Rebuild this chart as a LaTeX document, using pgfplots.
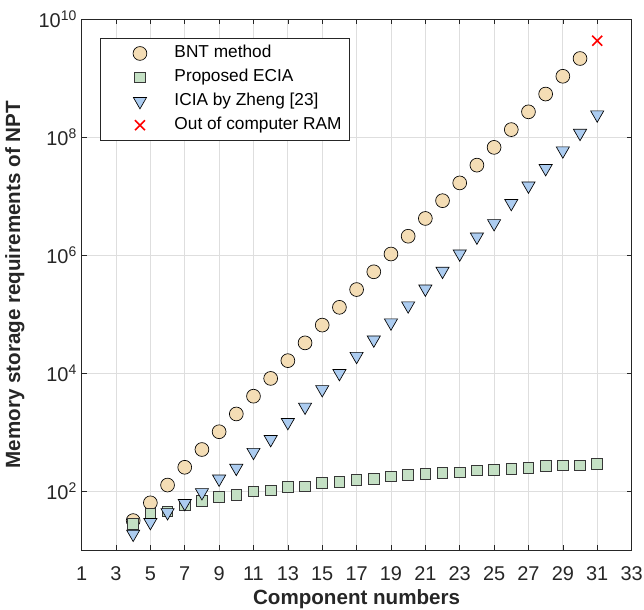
\documentclass[border=0pt]{standalone}
\usepackage{pgfplots}
\pgfplotsset{compat=1.18}
\usepackage{fontspec}
\setmainfont{Liberation Sans}

\definecolor{bntfill}{RGB}{244,221,181}
\definecolor{eciafill}{RGB}{196,224,196}
\definecolor{eciaedge}{RGB}{55,55,55}
\definecolor{iciafill}{RGB}{172,204,240}
\definecolor{gridgray}{RGB}{222,222,222}
\definecolor{axgray}{RGB}{38,38,38}

% one mark in the middle of a wide legend cell
\pgfplotsset{legmark/.style={legend image code/.code={
    \path[draw=none,fill=none] (0pt,0pt) -- (50pt,0pt);
    \draw plot coordinates {(25pt,0pt)};}}}

\begin{document}
\begin{tikzpicture}
\begin{axis}[
    scale only axis,
    width=414pt, height=400pt,
    ymode=log,
    xmin=1, xmax=33, ymin=10, ymax=1e10,
    xtick={1,3,...,33},
    ytick={1e2,1e4,1e6,1e8,1e10},
    yticklabels={10\textsuperscript{2},10\textsuperscript{4},10\textsuperscript{6},10\textsuperscript{8},10\textsuperscript{10}},
    minor ytick={},
    /pgf/number format/assume math mode=true,
    tick align=inside,
    tick style={axgray, line width=0.5pt},
    major tick length=3.8pt,
    axis line style={axgray, line width=0.6pt},
    grid=major,
    grid style={gridgray, line width=0.6pt},
    ticklabel style={font=\fontsize{15}{17}\selectfont, text=axgray},
    xticklabel style={inner xsep=1pt, yshift=-8.5pt},
    yticklabel style={inner ysep=8pt},
    xlabel={\textbf{Component numbers}},
    ylabel={\textbf{Memory storage requirements of NPT}},
    label style={font=\fontsize{15.5}{17}\selectfont, text=axgray},
    xlabel shift=3.5pt,
    xlabel style={inner ysep=0pt},
    ylabel shift=3pt,
    ylabel style={inner ysep=4pt},
    legend style={at={(0.033,0.964)}, anchor=north west,
        draw=axgray, line width=0.5pt,
        font=\fontsize{13}{15}\selectfont,
        nodes={inner sep=1pt, text height=9.5pt, text depth=3pt},
        row sep=3.5pt, inner xsep=5pt, inner ysep=4pt,
        legend cell align=left},
]
% BNT method
\addplot[only marks, legmark, mark=*, mark size=5.2pt, draw=black, fill=bntfill, line width=0.5pt] coordinates {
 (4,32) (5,64) (6,128) (7,256) (8,512) (9,1024) (10,2048) (11,4096)
 (12,8192) (13,16384) (14,32768) (15,65536) (16,131072) (17,262144)
 (18,524288) (19,1048576) (20,2097152) (21,4194304) (22,8388608)
 (23,1.678e7) (24,3.355e7) (25,6.711e7) (26,1.342e8) (27,2.684e8)
 (28,5.369e8) (29,1.074e9) (30,2.147e9)
};
\addlegendentry{BNT method}
% Proposed ECIA
\addplot[only marks, legmark, mark=square*, mark size=4.0pt, draw=eciaedge, fill=eciafill, line width=0.7pt] coordinates {
 (4,28) (5,41) (6,46) (7,59) (8,68) (9,80) (10,88) (11,100) (12,104)
 (13,118) (14,121) (15,138) (16,144) (17,157) (18,161) (19,179) (20,191)
 (21,196) (22,204) (23,209) (24,225) (25,232) (26,241) (27,252) (28,269)
 (29,274) (30,276) (31,288)
};
\addlegendentry{Proposed ECIA}
% ICIA by Zheng
\addplot[only marks, legmark, mark=triangle*, mark size=5.7pt, draw=black, fill=iciafill, line width=0.5pt,
    every mark/.append style={rotate=180}] coordinates {
 (4,19) (5,30) (6,44) (7,63) (8,96) (9,163) (10,248) (11,462) (12,762)
 (13,1480) (14,2700) (15,5340) (16,10000) (17,19500) (18,37000) (19,72000)
 (20,140000) (21,270000) (22,540000) (23,1.06e6) (24,2.05e6) (25,3.46e6)
 (26,7.6e6) (27,1.5e7) (28,2.96e7) (29,5.9e7) (30,1.17e8) (31,2.4e8)
};
\addlegendentry{ICIA by Zheng [23]}
% Out of RAM
\addplot[only marks, legmark, mark=x, mark size=5.3pt, red, line width=1.2pt] coordinates {
 (31,4.295e9)
};
\addlegendentry{Out of computer RAM}
\end{axis}
\end{tikzpicture}
\end{document}
